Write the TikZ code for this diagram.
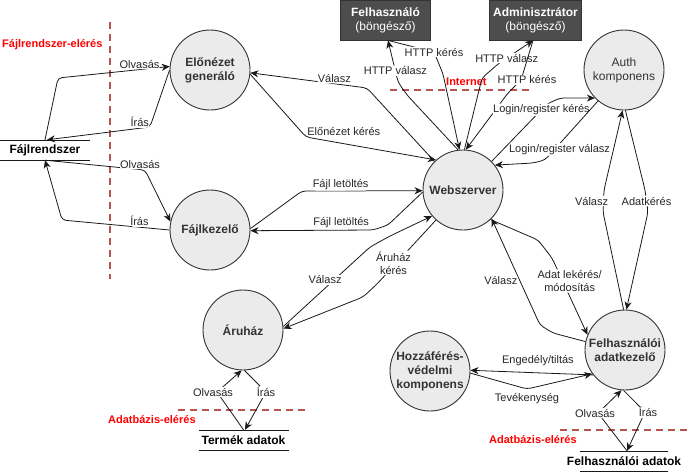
\documentclass[tikz,border=0pt]{standalone}
\usepackage{fontspec}
\setmainfont{Liberation Sans}
\usetikzlibrary{arrows.meta}
\definecolor{nodegray}{RGB}{235, 235, 235}
\definecolor{boxgray}{RGB}{77, 77, 77}
\definecolor{zonered}{RGB}{184, 84, 80}
\definecolor{textgray}{RGB}{51, 51, 51}

\begin{document}
\begin{tikzpicture}[x=1pt, y=-1pt, font=\fontsize{11}{13}\selectfont]
    \useasboundingbox (0,0) rectangle (693,472);
    % Define styles
    \tikzstyle{proc} = [circle, draw=textgray, line width=0.9pt, fill=nodegray, minimum size=80pt, inner sep=0pt, text=textgray, align=center, font=\fontsize{12}{14}\selectfont\bfseries]
    \tikzstyle{client} = [rectangle, draw=black!80, line width=0.9pt, fill=boxgray, minimum width=90pt, minimum height=40pt, text=white, align=center, font=\fontsize{12}{14}\selectfont]
    \tikzstyle{store} = [minimum width=90pt, minimum height=20pt, inner sep=0pt, font=\fontsize{12}{14}\selectfont\bfseries]
    \tikzstyle{line} = [draw, black!90, line width=0.8pt, rounded corners=4pt, -{Stealth[length=8pt, width=7pt, inset=2.5pt]}]
    \tikzstyle{lbl} = [fill=white, inner sep=1pt, text=black!85]
    \tikzstyle{zone} = [draw=zonered, line width=1.6pt, dash pattern=on 7pt off 5pt]
    \tikzstyle{zonelabel} = [text=red, font=\fontsize{11}{13}\selectfont\bfseries, inner sep=0pt, anchor=west]

    % Nodes
    \node [proc] (prev) at (210,70) {Előnézet\\generáló};
    \node [proc] (files) at (210,230) {Fájlkezelő};
    \node [proc] (web) at (463,190) {Webszerver};
    \node [proc, font=\fontsize{12}{14}\selectfont] (auth) at (624,70) {Auth\\komponens};
    \node [proc] (shop) at (243,330) {Áruház};
    \node [proc] (acl) at (430,371) {Hozzáférés-\\védelmi\\komponens};
    \node [proc] (udata) at (625,350) {Felhasználói\\adatkezelő};
    \node [client] (user) at (385.5,20) {\textbf{Felhasználó}\\(böngésző)};
    \node [client] (admin) at (535.5,20) {\textbf{Adminisztrátor}\\(böngésző)};
    \node [store] (fs) at (45,150) {Fájlrendszer};
    \node [store] (products) at (243.5,440) {Termék adatok};
    \node [store] (users) at (624,461) {Felhasználói adatok};
    \foreach \s/\w in {fs/45, products/45, users/44} {
        \draw [black!90, line width=0.8pt] (\s.center) ++(-\w,-10) -- ++(2*\w,0);
        \draw [black!90, line width=0.8pt] (\s.center) ++(-\w,10) -- ++(2*\w,0);
    }

    % Access zones
    \draw [zone] (110,22) -- (110,279);
    \draw [zone] (390,90) -- (530,90);
    \draw [zone] (178,410) -- (305,410);
    \draw [zone] (560,430) -- (690,430);
    \node [zonelabel] at (2,45) {Fájlrendszer-elérés};
    \node [zonelabel] at (446,82) {Internet};
    \node [zonelabel] at (108,420) {Adatbázis-elérés};
    \node [zonelabel] at (489,440) {Adatbázis-elérés};

    % Connections
    \path [line] (fs.north) -- (58,78) -- node [lbl, above, pos=0.73] {Olvasás} (prev.175);
    \path [line] (prev.west) -- (150,127) -- node [lbl, above, pos=0.1] {Írás} ([xshift=2pt]fs.north);
    \path [line] (fs.south) -- node [lbl, above, pos=0.95] {Olvasás} (145,170) -- (files.168);
    \path [line] (files.west) -- node [lbl, above, pos=0.28] {Írás} (62,220) -- (fs.south);
    \path [line] (web.135) -- (367,88) -- node [lbl, above, pos=0.28] {Válasz} (prev.-4);
    \path [line] (prev.-6) -- (306,137) node [lbl, anchor=south west] {Előnézet kérés} -- (web.132);
    \path [line] ([xshift=2.5pt]user.south) -- (434,52) node [lbl] {HTTP kérés} -- (443,74) -- (web.95);
    \path [line] (web.97) -- (407,95) -- (398,82) -- node [lbl, pos=0.27] {HTTP válasz} ([xshift=2.5pt]user.south);
    \path [line] (web.88) -- (482,78) -- (498,64) -- node [lbl, pos=0.25] {HTTP válasz} ([xshift=-2.5pt]admin.south);
    \path [line] ([xshift=-2.5pt]admin.south) -- (521,80) node [lbl, xshift=6pt] {HTTP kérés} -- (508,93) -- (web.86);
    \path [line] (web.45) -- node [lbl, pos=0.9] {Login/register kérés} (547,104) -- (560,98) -- (auth.224);
    \path [line] (auth.230) -- node [lbl, pos=0.82, xshift=5pt] {Login/register válasz} (545,160) -- (533,163) -- (web.38);
    \path [line] (udata.92) -- (603,212) -- node [lbl, anchor=east, xshift=6pt] {Válasz} (604,190) -- (auth.268);
    \path [line] (auth.272) -- (645,190) -- node [lbl] {Adatkérés} (648,212) -- (udata.88);
    \path [line] (udata.168) -- (553,333) -- (540,325) -- node [lbl, anchor=east, pos=0.42, xshift=-1pt] {Válasz} (web.-45);
    \path [line] (web.-47) -- (538,240) -- (552,258) -- node [lbl, align=center, pos=0.3, xshift=7pt] {Adat lekérés/\\módosítás} (udata.158);
    \path [line] (udata.218) -- node [lbl, above=6pt, pos=0.45] {Engedély/tiltás} (acl.1);
    \path [line] (acl.-3) -- (527,389) node [lbl, below=3pt] {Tevékenység} -- (udata.216);
    \path [line] ([xshift=3pt]users.north) -- (598,413) node [lbl, xshift=-3pt] {Olvasás} -- (udata.265);
    \path [line] (udata.268) -- (645,412) node [lbl, xshift=3pt] {Írás} -- ([xshift=3pt]users.north);
    \path [line] (products.north) -- (217,392) node [lbl, xshift=-4pt] {Olvasás} -- (shop.268);
    \path [line] (shop.272) -- (266,392) node [lbl] {Írás} -- ([xshift=1.5pt]products.north);
    \path [line] (files.2) -- (302,191) -- node [lbl, above, pos=0.32] {Fájl letöltés} (web.181);
    \path [line] (web.183) -- (388,225) -- (373,230) -- node [lbl, above=1pt, pos=0.26] {Fájl letöltés} (files.-1);
    \path [line] (shop.5) -- node [lbl, pos=0.585, xshift=-9pt] {Válasz} (370,247) -- (390,236) -- (web.220);
    \path [line] (web.228) -- node [lbl, align=center, pos=0.67, xshift=-3pt] {Áruház\\kérés} (377,284) -- (363,297) -- (shop.2);
\end{tikzpicture}
\end{document}
